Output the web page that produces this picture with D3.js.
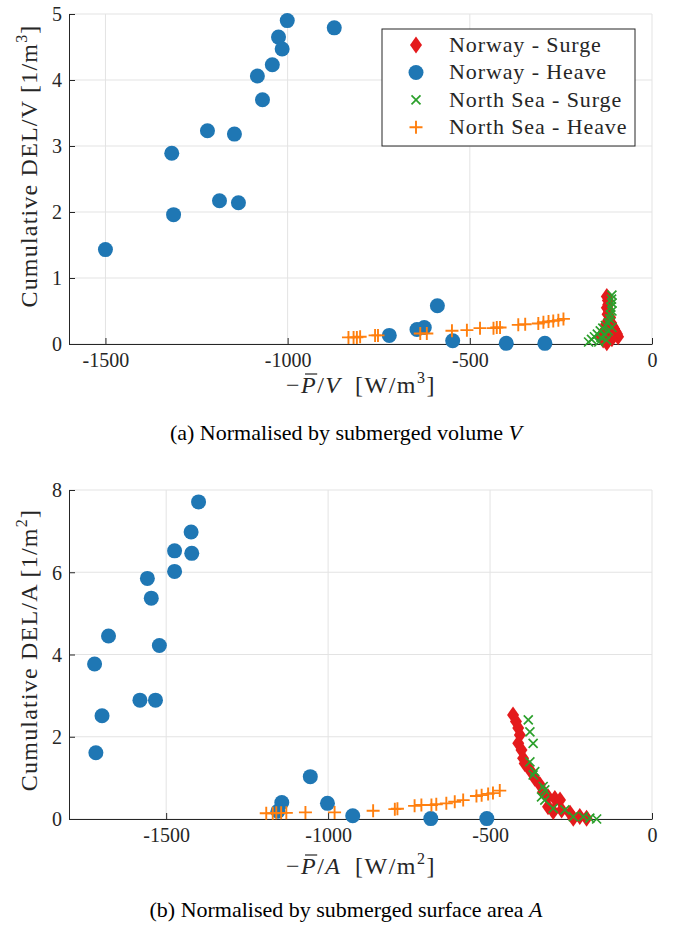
<!DOCTYPE html>
<html>
<head>
<meta charset="utf-8">
<script src="https://cdn.jsdelivr.net/npm/d3@7"></script>
<style>
  body { margin: 0; background: #fff; }
  svg text { font-family: 'Liberation Serif', 'Times New Roman', serif !important; }
</style>
</head>
<body>
<svg id="chart" width="681" height="927" font-family="'Liberation Serif', serif"></svg>
<script>
// Values, [x, y]

// (a) normalised by submerged volume
const volNorwaySurge = [[-124,0.72],[-121,0.66],[-120,0.60],[-124,0.55],[-118,0.50],[-122,0.45],[-115,0.40],[-120,0.36],[-112,0.32],[-108,0.27],[-104,0.23],[-100,0.19],[-96,0.15],[-93,0.11],[-118,0.18],[-128,0.10],[-134,0.06],[-124,0.02],[-110,0.08],[-140,0.12],[-130,0.20],[-126,0.30]];
const volNorwayHeave = [[-1500,1.43],[-1318,2.89],[-1313,1.96],[-1220,3.23],[-1187,2.17],[-1146,3.18],[-1135,2.14],[-1083,4.06],[-1069,3.70],[-1042,4.23],[-1025,4.65],[-1015,4.47],[-1001,4.90],[-872,4.79],[-721,0.13],[-645,0.22],[-625,0.25],[-589,0.58],[-547,0.05],[-400,0.01],[-294,0.01]];
const volNorthSeaSurge = [[-110,0.74],[-111,0.68],[-110,0.62],[-113,0.56],[-110,0.50],[-114,0.44],[-116,0.38],[-120,0.32],[-128,0.28],[-135,0.24],[-142,0.20],[-150,0.15],[-158,0.11],[-166,0.07],[-174,0.03],[-140,0.10],[-128,0.14],[-120,0.20],[-125,0.06],[-110,0.25],[-146,0.03]];
const volNorthSeaHeave = [[-833,0.10],[-819,0.10],[-810,0.10],[-801,0.11],[-760,0.13],[-752,0.13],[-636,0.16],[-618,0.16],[-549,0.20],[-508,0.21],[-472,0.24],[-435,0.24],[-426,0.25],[-417,0.25],[-367,0.29],[-348,0.30],[-312,0.31],[-298,0.33],[-284,0.34],[-271,0.35],[-257,0.36],[-243,0.38]];

// (b) normalised by submerged surface area
const areaNorwaySurge = [[-429,2.53],[-420,2.37],[-413,2.21],[-408,2.04],[-413,1.84],[-403,1.68],[-398,1.48],[-393,1.35],[-377,1.19],[-362,0.99],[-346,0.83],[-336,0.66],[-321,0.54],[-300,0.50],[-284,0.46],[-321,0.30],[-305,0.18],[-279,0.22],[-253,0.14],[-243,0.02],[-223,0.06],[-202,0.02]];
const areaNorwayHeave = [[-1400,7.71],[-1423,6.98],[-1474,6.52],[-1421,6.46],[-1474,6.02],[-1558,5.85],[-1546,5.37],[-1678,4.45],[-1521,4.22],[-1721,3.77],[-1581,2.89],[-1533,2.89],[-1698,2.51],[-1717,1.61],[-1055,1.03],[-1143,0.40],[-1155,0.19],[-1002,0.38],[-924,0.08],[-683,0.01],[-510,0.01]];
const areaNorthSeaSurge = [[-382,2.41],[-377,2.12],[-367,1.84],[-377,1.39],[-362,1.15],[-367,1.07],[-336,0.79],[-331,0.71],[-341,0.54],[-331,0.46],[-305,0.26],[-269,0.22],[-243,0.06],[-212,0.06],[-192,0.02],[-171,0.00]];
const areaNorthSeaHeave = [[-1191,0.14],[-1171,0.14],[-1160,0.15],[-1145,0.15],[-1129,0.15],[-1070,0.16],[-980,0.16],[-861,0.20],[-794,0.24],[-786,0.25],[-733,0.32],[-712,0.34],[-681,0.34],[-666,0.36],[-635,0.38],[-609,0.42],[-583,0.46],[-542,0.56],[-526,0.58],[-506,0.61],[-491,0.63],[-470,0.69]];

const xTicksTop = [-1500, -1000, -500, 0];
const yTicksTop = [0, 1, 2, 3, 4, 5];
const xTicksBottom = [-1500, -1000, -500, 0];
const yTicksBottom = [0, 2, 4, 6, 8];

const seriesNames = ["Norway - Surge", "Norway - Heave", "North Sea - Surge", "North Sea - Heave"];

const svg = d3.select("#chart");
const serif = "'Liberation Serif', serif";

const colRed = "#e41a1c", colBlue = "#1f77b4", colGreen = "#2ca02c", colOrange = "#ff7f0e";

// marker shapes
const diamondPath = "M0,-8.5L6,0L0,8.5L-6,0Z";
const timesPath = "M-4.5,-4.5L4.5,4.5M-4.5,4.5L4.5,-4.5";
const plusPath = "M-6.5,0H6.5M0,-6.5V6.5";

function drawMarkers(g, data, x, y, kind) {
    const sel = g.append("g").selectAll("path").data(data).join("path")
        .attr("transform", d => `translate(${x(d[0])},${y(d[1])})`);
    if (kind == "diamond") sel.attr("d", diamondPath).attr("fill", colRed);
    if (kind == "circle") sel.attr("d", d3.symbol(d3.symbolCircle, Math.PI * 7.5 * 7.5)()).attr("fill", colBlue);
    if (kind == "times") sel.attr("d", timesPath).attr("fill", "none").attr("stroke", colGreen).attr("stroke-width", 1.7);
    if (kind == "plus") sel.attr("d", plusPath).attr("fill", "none").attr("stroke", colOrange).attr("stroke-width", 1.9);
}

// draws the axes frame, grid and tick labels
function drawAxes(x, y, xTicks, yTicks) {
    const g = svg.append("g");
    const [x0, x1] = x.range();
    const [y0, y1] = y.range();
    // grid
    g.selectAll(".gx").data(xTicks).join("line")
        .attr("x1", d => x(d)).attr("x2", d => x(d))
        .attr("y1", y0).attr("y2", y1)
        .attr("stroke", "#e3e3e3").attr("stroke-width", 1);
    g.selectAll(".gy").data(yTicks).join("line")
        .attr("y1", d => y(d)).attr("y2", d => y(d))
        .attr("x1", x0).attr("x2", x1)
        .attr("stroke", "#e3e3e3").attr("stroke-width", 1);

    const xAxis = d3.axisBottom(x).tickValues(xTicks).tickSizeInner(-6).tickSizeOuter(0)
        .tickPadding(12).tickFormat(d => String(d));
    const yAxis = d3.axisLeft(y).tickValues(yTicks).tickSizeInner(-6).tickSizeOuter(0)
        .tickPadding(12).tickFormat(d => String(d));
    const gx = svg.append("g").attr("transform", `translate(0,${y0})`).call(xAxis);
    const gy = svg.append("g").attr("transform", `translate(${x0},0)`).call(yAxis);
    [gx, gy].forEach(a => {
        a.attr("font-family", serif).attr("font-size", 20);
        a.select(".domain").attr("stroke", "#262626");
        a.selectAll(".tick line").attr("stroke", "#262626");
        a.selectAll(".tick text").attr("font-family", serif).attr("font-size", 20).attr("fill", "#262626");
    });
    gx.selectAll(".tick text").attr("dy", "0.55em");
    gy.selectAll(".tick text").attr("x", -7).attr("dy", "0.34em");
    return g;
}

function yLabel(cx, cy, main) {
    const t = svg.append("text")
        .attr("transform", `translate(${cx},${cy}) rotate(-90)`)
        .attr("text-anchor", "middle").attr("font-size", 24).attr("font-family", serif)
        .attr("fill", "#262626").style("letter-spacing", "1.2px");
    t.append("tspan").text(main + " [1/m");
    t.append("tspan").attr("font-size", 16).attr("dy", -10).text(main.endsWith("V") ? "3" : "2");
    t.append("tspan").attr("dy", 10).text("]");
}

function xLabel(cx, by, sym, pw) {
    const t = svg.append("text").attr("x", cx).attr("y", by)
        .attr("text-anchor", "middle").attr("font-size", 24).attr("font-family", serif)
        .attr("fill", "#262626").style("letter-spacing", "1.5px");
    t.append("tspan").text("\u2212");
    t.append("tspan").attr("font-style", "italic").text("P");
    t.append("tspan").text("/");
    t.append("tspan").attr("font-style", "italic").text(sym);
    t.append("tspan").text("\u2002[W/m");
    t.append("tspan").attr("font-size", 16).attr("dy", -10).text(pw);
    t.append("tspan").attr("dy", 10).text("]");
    // bar over the P
    const n = t.node();
    const s = n.getStartPositionOfChar(1), e = n.getEndPositionOfChar(1);
    svg.append("line")
        .attr("x1", s.x + 4).attr("x2", e.x)
        .attr("y1", by - 19).attr("y2", by - 19)
        .attr("stroke", "#262626").attr("stroke-width", 1.2);
}

function caption(cx, by, tag, desc, sym) {
    const t = svg.append("text").attr("x", cx).attr("y", by)
        .attr("text-anchor", "middle").attr("font-size", 22).attr("font-family", serif)
        .attr("fill", "#000");
    t.append("tspan").text(`(${tag}) ${desc} `);
    t.append("tspan").attr("font-style", "italic").text(sym);
}

// ---- top panel ----
const xTop = d3.scaleLinear().domain([-1600, 0]).range([69, 652]);
const yTop = d3.scaleLinear().domain([0, 5]).range([344, 14]);
drawAxes(xTop, yTop, xTicksTop, yTicksTop);
const mTop = svg.append("g");
drawMarkers(mTop, volNorwaySurge, xTop, yTop, "diamond");
drawMarkers(mTop, volNorwayHeave, xTop, yTop, "circle");
drawMarkers(mTop, volNorthSeaSurge, xTop, yTop, "times");
drawMarkers(mTop, volNorthSeaHeave, xTop, yTop, "plus");
yLabel(37, 166, "Cumulative DEL/V");
xLabel(361, 393, "V", "3");
caption(346, 440, "a", "Normalised by submerged volume", "V");

// legend
const leg = svg.append("g");
leg.append("rect").attr("x", 382).attr("y", 29).attr("width", 253).attr("height", 117)
    .attr("fill", "#fff").attr("stroke", "#262626").attr("stroke-width", 1);
const legY = d3.scalePoint().domain(seriesNames).range([45, 127.3]);
const legKinds = ["diamond", "circle", "times", "plus"];
seriesNames.forEach((name, i) => {
    const gi = leg.append("g");
    drawMarkers(gi, [[0, 0]], () => 416, () => legY(name), legKinds[i]);
    leg.append("text").attr("x", 449).attr("y", legY(name) + 7)
        .attr("font-size", 22).attr("font-family", serif).attr("fill", "#262626")
        .style("letter-spacing", "0.9px").text(name);
});

// ---- bottom panel ----
const xBot = d3.scaleLinear().domain([-1800, 0]).range([69, 652]);
const yBot = d3.scaleLinear().domain([0, 8]).range([819, 490]);
drawAxes(xBot, yBot, xTicksBottom, yTicksBottom);
const mBot = svg.append("g");
drawMarkers(mBot, areaNorwaySurge, xBot, yBot, "diamond");
drawMarkers(mBot, areaNorwayHeave, xBot, yBot, "circle");
drawMarkers(mBot, areaNorthSeaSurge, xBot, yBot, "times");
drawMarkers(mBot, areaNorthSeaHeave, xBot, yBot, "plus");
yLabel(37, 650, "Cumulative DEL/A");
xLabel(361, 874, "A", "2");
caption(346, 917, "b", "Normalised by submerged surface area", "A");
</script>
</body>
</html>
